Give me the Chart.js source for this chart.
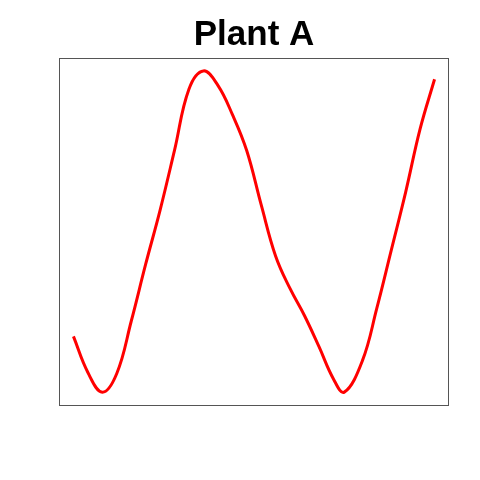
<!DOCTYPE html>
<html>
<head>
<meta charset="utf-8">
<script src="https://cdn.jsdelivr.net/npm/chart.js@4"></script>
<style>
html,body{margin:0;padding:0;background:#fff;}
#wrap{width:480px;height:480px;}
</style>
</head>
<body>
<div id="wrap"><canvas id="c" width="480" height="480"></canvas></div>
<script>
const titleText = "Plant A";
const xValues = [0, 4, 8, 12, 16, 20, 24, 28, 32, 36, 40, 44, 48, 52, 56, 60, 64, 68, 72, 75, 80, 84, 88, 92, 96, 100];
const yValues = [17.6, 6.4, 0.3, 6.1, 22.3, 40.0, 56.8, 75.4, 94.4, 100, 95.5, 86.5, 75.2, 58.4, 42.5, 32.4, 24.0, 14.4, 4.4, 0.3, 10.0, 26.3, 44.3, 62.4, 82.0, 97.4];

const points = xValues.map((x, i) => ({x: x, y: yValues[i]}));

const framePlugin = {
  id: 'frame',
  afterDraw(chart) {
    const a = chart.chartArea;
    const ctx = chart.ctx;
    ctx.save();
    ctx.strokeStyle = '#555';
    ctx.lineWidth = 1;
    ctx.strokeRect(Math.round(a.left) + 0.5, Math.round(a.top) + 0.5, Math.round(a.right - a.left) - 1, Math.round(a.bottom - a.top) - 1);
    ctx.fillStyle = '#000';
    ctx.font = 'bold 35px "Liberation Sans", Arial, sans-serif';
    ctx.textAlign = 'center';
    ctx.textBaseline = 'alphabetic';
    ctx.fillText(titleText, (a.left + a.right) / 2, 45);
    ctx.restore();
  }
};

new Chart(document.getElementById('c'), {
  type: 'line',
  data: {
    datasets: [{
      data: points,
      borderColor: '#ff0000',
      borderWidth: 3,
      pointRadius: 0,
      tension: 0.4,
      fill: false
    }]
  },
  options: {
    responsive: false,
    animation: false,
    layout: {padding: {left: 59, right: 31, top: 58, bottom: 74}},
    plugins: {legend: {display: false}, title: {display: false}, tooltip: {enabled: false}},
    scales: {
      x: {type: 'linear', min: -4, max: 104, display: false},
      y: {type: 'linear', min: -4, max: 104, display: false}
    }
  },
  plugins: [framePlugin]
});
</script>
</body>
</html>
